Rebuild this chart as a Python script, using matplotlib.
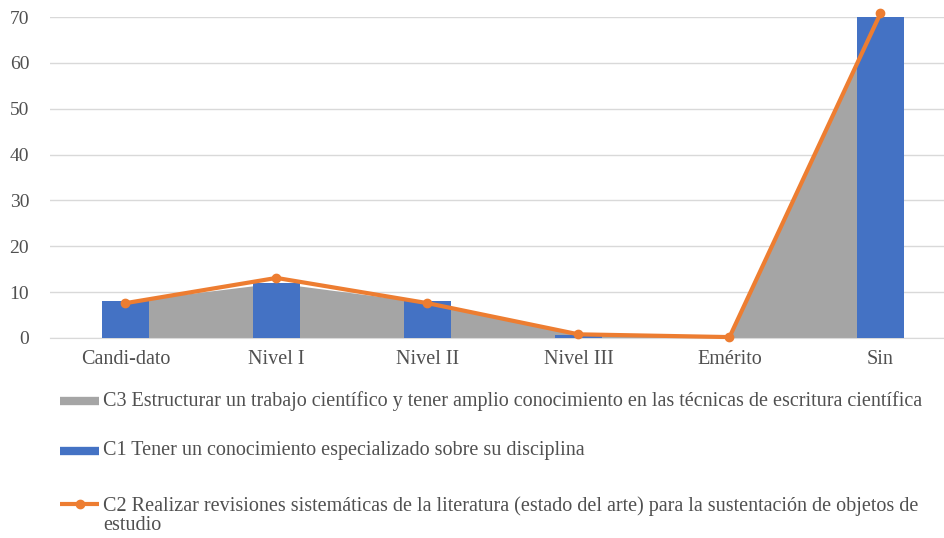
import matplotlib
matplotlib.use("Agg")
import matplotlib.pyplot as plt
from matplotlib.lines import Line2D
import numpy as np

categories = ["Candi-dato", "Nivel I", "Nivel II", "Nivel III", "Emérito", "Sin"]
c3_values = [8.0, 12.0, 7.7, 1.0, 0.0, 70.5]
c1_values = [8.0, 12.0, 8.0, 0.6, 0.0, 70.3]
c2_values = [7.6, 13.1, 7.6, 0.8, 0.2, 70.8]
yticks = [0, 10, 20, 30, 40, 50, 60, 70]

label_c3 = "C3 Estructurar un trabajo científico y tener amplio conocimiento en las técnicas de escritura científica"
label_c1 = "C1 Tener un conocimiento especializado sobre su disciplina"
label_c2 = "C2 Realizar revisiones sistemáticas de la literatura (estado del arte) para la sustentación de objetos de\nestudio"

GRAY = "#A5A5A5"
BLUE = "#4472C4"
ORANGE = "#ED7D31"
TXT = "#505050"

plt.rcParams['font.family'] = ['Liberation Serif', 'DejaVu Serif']

W, H = 945, 538
fig = plt.figure(figsize=(W / 100, H / 100), dpi=100)
ax = fig.add_axes([50 / W, 1 - 338 / H, 906 / W, 321 / H])

x = np.arange(len(categories))
ax.fill_between(x, c3_values, 0, color=GRAY, linewidth=0, zorder=2)
ax.bar(x, c1_values, width=0.31, color=BLUE, zorder=3)
ax.plot(x, c2_values, color=ORANGE, linewidth=3, marker="o", markersize=6, zorder=4, clip_on=False)

ax.set_xlim(-0.5, 5.5)
ax.set_ylim(0, 70)
ax.set_yticks(yticks)
ax.set_xticks(x)
ax.set_xticklabels(categories)
ax.tick_params(axis="x", length=0, labelsize=14.5, colors=TXT, pad=9)
ax.tick_params(axis="y", length=0, labelsize=14, colors=TXT, pad=15)
ax.grid(axis="y", color="#D9D9D9", linewidth=1, zorder=0)
for s in ["top", "right", "left"]:
    ax.spines[s].set_visible(False)
ax.spines["bottom"].set_color("#D9D9D9")
ax.set_axisbelow(True)

# legend drawn below the plot
fs = 14.5
x0, x1, xt = 60 / W, 99 / W, 103 / W
fig.add_artist(Line2D([x0, x1], [1 - 401 / H] * 2, color=GRAY, linewidth=6, solid_capstyle="butt", transform=fig.transFigure))
fig.add_artist(Line2D([x0, x1], [1 - 451 / H] * 2, color=BLUE, linewidth=6, solid_capstyle="butt", transform=fig.transFigure))
fig.add_artist(Line2D([x0, x1], [1 - 504 / H] * 2, color=ORANGE, linewidth=3, solid_capstyle="butt", transform=fig.transFigure))
fig.add_artist(Line2D([(x0 + x1) / 2], [1 - 504 / H], color=ORANGE, marker="o", markersize=6, transform=fig.transFigure))
fig.text(xt, 1 - 401 / H, label_c3, fontsize=fs, color=TXT, va="center", ha="left")
fig.text(xt, 1 - 451 / H, label_c1, fontsize=fs, color=TXT, va="center", ha="left")
fig.text(xt, 1 - 496 / H, label_c2, fontsize=fs, color=TXT, va="top", ha="left", linespacing=1.05)

fig.savefig("out.png", dpi=100)
